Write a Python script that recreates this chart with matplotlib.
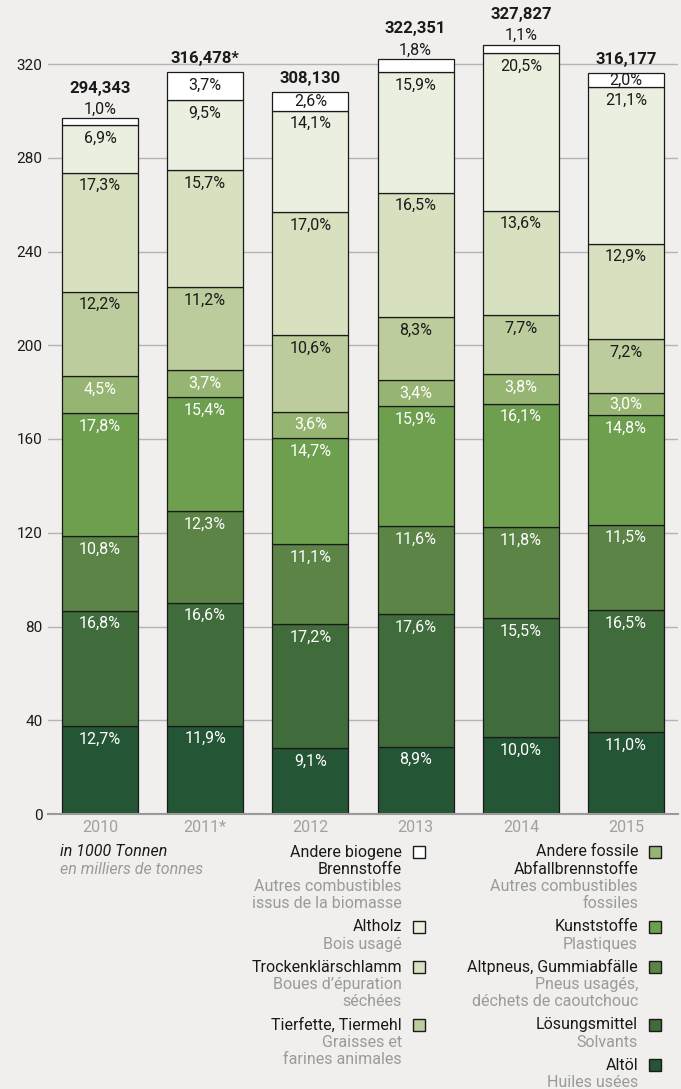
import matplotlib
matplotlib.use("Agg")
import matplotlib.pyplot as plt
import numpy as np
from matplotlib.patches import Rectangle

plt.rcParams['font.family'] = ['Roboto', 'DejaVu Sans']

# ---------------- data ----------------
years = ["2010", "2011*", "2012", "2013", "2014", "2015"]
total_labels = ["294,343", "316,478*", "308,130", "322,351", "327,827", "316,177"]

# segment sizes in 1000 t (bottom to top)
altoel          = [37.4, 37.7, 28.0, 28.7, 32.8, 34.8]
loesungsmittel  = [49.4, 52.5, 53.0, 56.7, 50.8, 52.2]
altpneus        = [31.8, 38.9, 34.2, 37.4, 38.7, 36.4]
kunststoffe     = [52.4, 48.7, 45.3, 51.3, 52.8, 46.8]
andere_fossile  = [15.9, 11.7, 11.1, 11.0, 12.5, 9.5]
tierfette       = [35.9, 35.4, 32.7, 26.8, 25.2, 22.8]
klaerschlamm    = [50.9, 49.7, 52.4, 53.2, 44.6, 40.8]
altholz         = [20.3, 30.1, 43.4, 51.3, 67.2, 66.7]
andere_biogene  = [2.9, 11.7, 8.0, 5.8, 3.6, 6.3]

# share labels in % (bottom to top)
lab_altoel          = ["12,7%", "11,9%", "9,1%", "8,9%", "10,0%", "11,0%"]
lab_loesungsmittel  = ["16,8%", "16,6%", "17,2%", "17,6%", "15,5%", "16,5%"]
lab_altpneus        = ["10,8%", "12,3%", "11,1%", "11,6%", "11,8%", "11,5%"]
lab_kunststoffe     = ["17,8%", "15,4%", "14,7%", "15,9%", "16,1%", "14,8%"]
lab_andere_fossile  = ["4,5%", "3,7%", "3,6%", "3,4%", "3,8%", "3,0%"]
lab_tierfette       = ["12,2%", "11,2%", "10,6%", "8,3%", "7,7%", "7,2%"]
lab_klaerschlamm    = ["17,3%", "15,7%", "17,0%", "16,5%", "13,6%", "12,9%"]
lab_altholz         = ["6,9%", "9,5%", "14,1%", "15,9%", "20,5%", "21,1%"]
lab_andere_biogene  = ["1,0%", "3,7%", "2,6%", "1,8%", "1,1%", "2,0%"]

series = [altoel, loesungsmittel, altpneus, kunststoffe, andere_fossile,
          tierfette, klaerschlamm, altholz, andere_biogene]
labels = [lab_altoel, lab_loesungsmittel, lab_altpneus, lab_kunststoffe, lab_andere_fossile,
          lab_tierfette, lab_klaerschlamm, lab_altholz, lab_andere_biogene]
colors = ["#245535", "#406b3b", "#5b8446", "#6e9f4f", "#97b572",
          "#bccc9c", "#d8e1bf", "#ebefdf", "#ffffff"]
text_colors = ["white"] * 5 + ["#1a1a1a"] * 4

legend_left = [
    (["Andere biogene", "Brennstoffe"], ["Autres combustibles", "issus de la biomasse"], 8),
    (["Altholz"], ["Bois usagé"], 7),
    (["Trockenklärschlamm"], ["Boues d’épuration", "séchées"], 6),
    (["Tierfette, Tiermehl"], ["Graisses et", "farines animales"], 5),
]
legend_right = [
    (["Andere fossile", "Abfallbrennstoffe"], ["Autres combustibles", "fossiles"], 4),
    (["Kunststoffe"], ["Plastiques"], 3),
    (["Altpneus, Gummiabfälle"], ["Pneus usagés,", "déchets de caoutchouc"], 2),
    (["Lösungsmittel"], ["Solvants"], 1),
    (["Altöl"], ["Huiles usées"], 0),
]

# ---------------- figure ----------------
W, H = 681, 1089
BG = "#f0efed"
BLACK = "#1a1a1a"
GRAY = "#9a9a9a"
fig = plt.figure(figsize=(W / 100, H / 100), dpi=100, facecolor=BG)

ax_left, ax_right, ax_top, ax_bot = 48, 678, 30, 814
ax = fig.add_axes([ax_left / W, 1 - ax_bot / H, (ax_right - ax_left) / W, (ax_bot - ax_top) / H])
ax.set_facecolor(BG)
px_per_unit = (814 - 64) / 320.0
ax.set_ylim(0, (ax_bot - ax_top) / px_per_unit)
ax.set_xlim(-0.494, 5.494)

x = np.arange(len(years))
width = 0.722
pt = 72 / 100.0  # points per pixel

bottom = np.zeros(len(years))
for k, (s, labs, c, tc) in enumerate(zip(series, labels, colors, text_colors)):
    vals = np.array(s, dtype=float)
    ax.bar(x, vals, width, bottom=bottom, color=c, edgecolor=BLACK, linewidth=0.9, zorder=3)
    last = k == len(series) - 1
    for i in range(len(years)):
        top = bottom[i] + vals[i]
        hpx = vals[i] * px_per_unit
        if last and hpx < 14:
            off = 9
        else:
            off = -min(13, hpx / 2)
        ax.annotate(labs[i], (x[i], top), xytext=(0, off * pt), textcoords="offset points",
                    ha="center", va="center", fontsize=11.5,
                    color=tc if off < 0 else BLACK, zorder=5)
        if last:
            toff = off + 21 if off > 0 else 13.5
            ax.annotate(total_labels[i], (x[i], top), xytext=(0, toff * pt),
                        textcoords="offset points", ha="center", va="center",
                        fontsize=12, fontweight="bold", color=BLACK, zorder=5)
    bottom += vals

ax.set_yticks([0, 40, 80, 120, 160, 200, 240, 280, 320])
ax.set_xticks(x)
ax.set_xticklabels(years)
ax.grid(axis="y", color="#b4b4b4", linewidth=1.0)
ax.set_axisbelow(True)
for sp in ["top", "right", "left"]:
    ax.spines[sp].set_visible(False)
ax.spines["bottom"].set_color("#9a9a9a")
ax.spines["bottom"].set_linewidth(1.5)
ax.spines["bottom"].set_zorder(4)
ax.tick_params(axis="y", length=0, pad=4, labelsize=11, labelcolor=BLACK)
ax.tick_params(axis="x", length=0, pad=4, labelsize=11.5, labelcolor="#a0a0a0")


def ftext(px, py, s, **kw):
    fig.text(px / W, 1 - py / H, s, va="center", **kw)


ftext(60, 851, "in 1000 Tonnen", ha="left", fontsize=11.5, style="italic", color=BLACK)
ftext(60, 869, "en milliers de tonnes", ha="left", fontsize=11.5, style="italic", color=GRAY)

line_h = 17.3
gap = 23


def draw_legend(entries, text_x, sq_x):
    y = 852
    for de, fr, idx in entries:
        sq = Rectangle((sq_x / W, 1 - (y + 6) / H), 12 / W, 12 / H, transform=fig.transFigure,
                       facecolor=colors[idx], edgecolor=BLACK, linewidth=1.0)
        fig.patches.append(sq)
        for line in de:
            ftext(text_x, y, line, ha="right", fontsize=11.5, color=BLACK)
            y += line_h
        for line in fr:
            ftext(text_x, y, line, ha="right", fontsize=11.5, color=GRAY)
            y += line_h
        y += gap - line_h


draw_legend(legend_left, 402, 413)
draw_legend(legend_right, 638, 649)

fig.savefig("out.png", dpi=100, facecolor=BG)
